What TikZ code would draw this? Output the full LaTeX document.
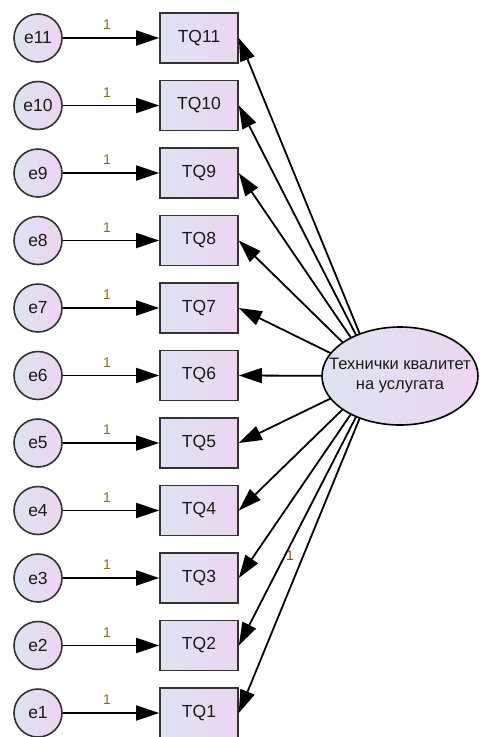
\documentclass[tikz,border=0pt]{standalone}
\usepackage{fontspec}
\setmainfont{Liberation Sans}
\usetikzlibrary{arrows.meta,shapes.geometric,intersections}

\definecolor{fillL}{HTML}{DEE3F1}
\definecolor{fillR}{HTML}{EDD5F0}
\definecolor{edgegray}{HTML}{333333}
\definecolor{txt}{HTML}{1A1A1A}
\definecolor{wtcol}{HTML}{8A6A14}
\definecolor{regcol}{HTML}{9C4A1C}

\begin{document}
\begin{tikzpicture}[x=1pt,y=-1pt,
  obs/.style={draw=edgegray, line width=1.6pt, minimum width=78pt, minimum height=50pt,
    inner sep=0pt, left color=fillL, right color=fillR, text=txt,
    font=\fontsize{17.5}{20}\selectfont},
  err/.style={circle, draw=edgegray, line width=1.6pt, minimum size=48pt, inner sep=0pt,
    left color=fillL, right color=fillR, text=txt, font=\fontsize{17.5}{20}\selectfont},
  lat/.style={ellipse, draw=black, line width=1.6pt, minimum width=156pt,
    minimum height=98pt, inner sep=0pt, left color=fillL, right color=fillR},
  lattext/.style={align=center, text=txt, inner sep=0pt, font=\fontsize{16.5}{20}\selectfont},
  reg/.style={-{Triangle[length=23pt,width=15pt]}, line width=1.8pt, black},
  wlab/.style={text=wtcol, inner sep=0pt, font=\fontsize{14}{14}\selectfont},
]
\useasboundingbox (0,0) rectangle (480,737);

% observed items, their error terms and the fixed weights
\foreach \i in {1,...,11} {
  \pgfmathsetmacro\yy{38+(11-\i)*67.5}
  \node[obs] (tq\i) at (199,\yy) {TQ\i};
  \node[err] (e\i) at (38,\yy) {e\i};
  \draw[reg] (e\i) -- (tq\i);
  \node[wlab] (w\i) at (107,\yy-13) {1};
}

% latent factor
\node[lat, name path=ell] (lv) at (400,376) {};
\node[lattext] (lvtext) at (lv.center) {Технички квалитет\\на услугата};
\coordinate (focus) at (377,376);

% loadings from the factor to each item
\foreach \i in {1,...,11} {
  \path[name path=ray] (tq\i.east) -- (focus);
  \draw[reg, name intersections={of=ell and ray, by=s\i}] (s\i) -- (tq\i.east);
}

\node[text=regcol, inner sep=0pt, font=\fontsize{14}{14}\selectfont] (w0) at (290,556) {1};
\end{tikzpicture}
\end{document}
